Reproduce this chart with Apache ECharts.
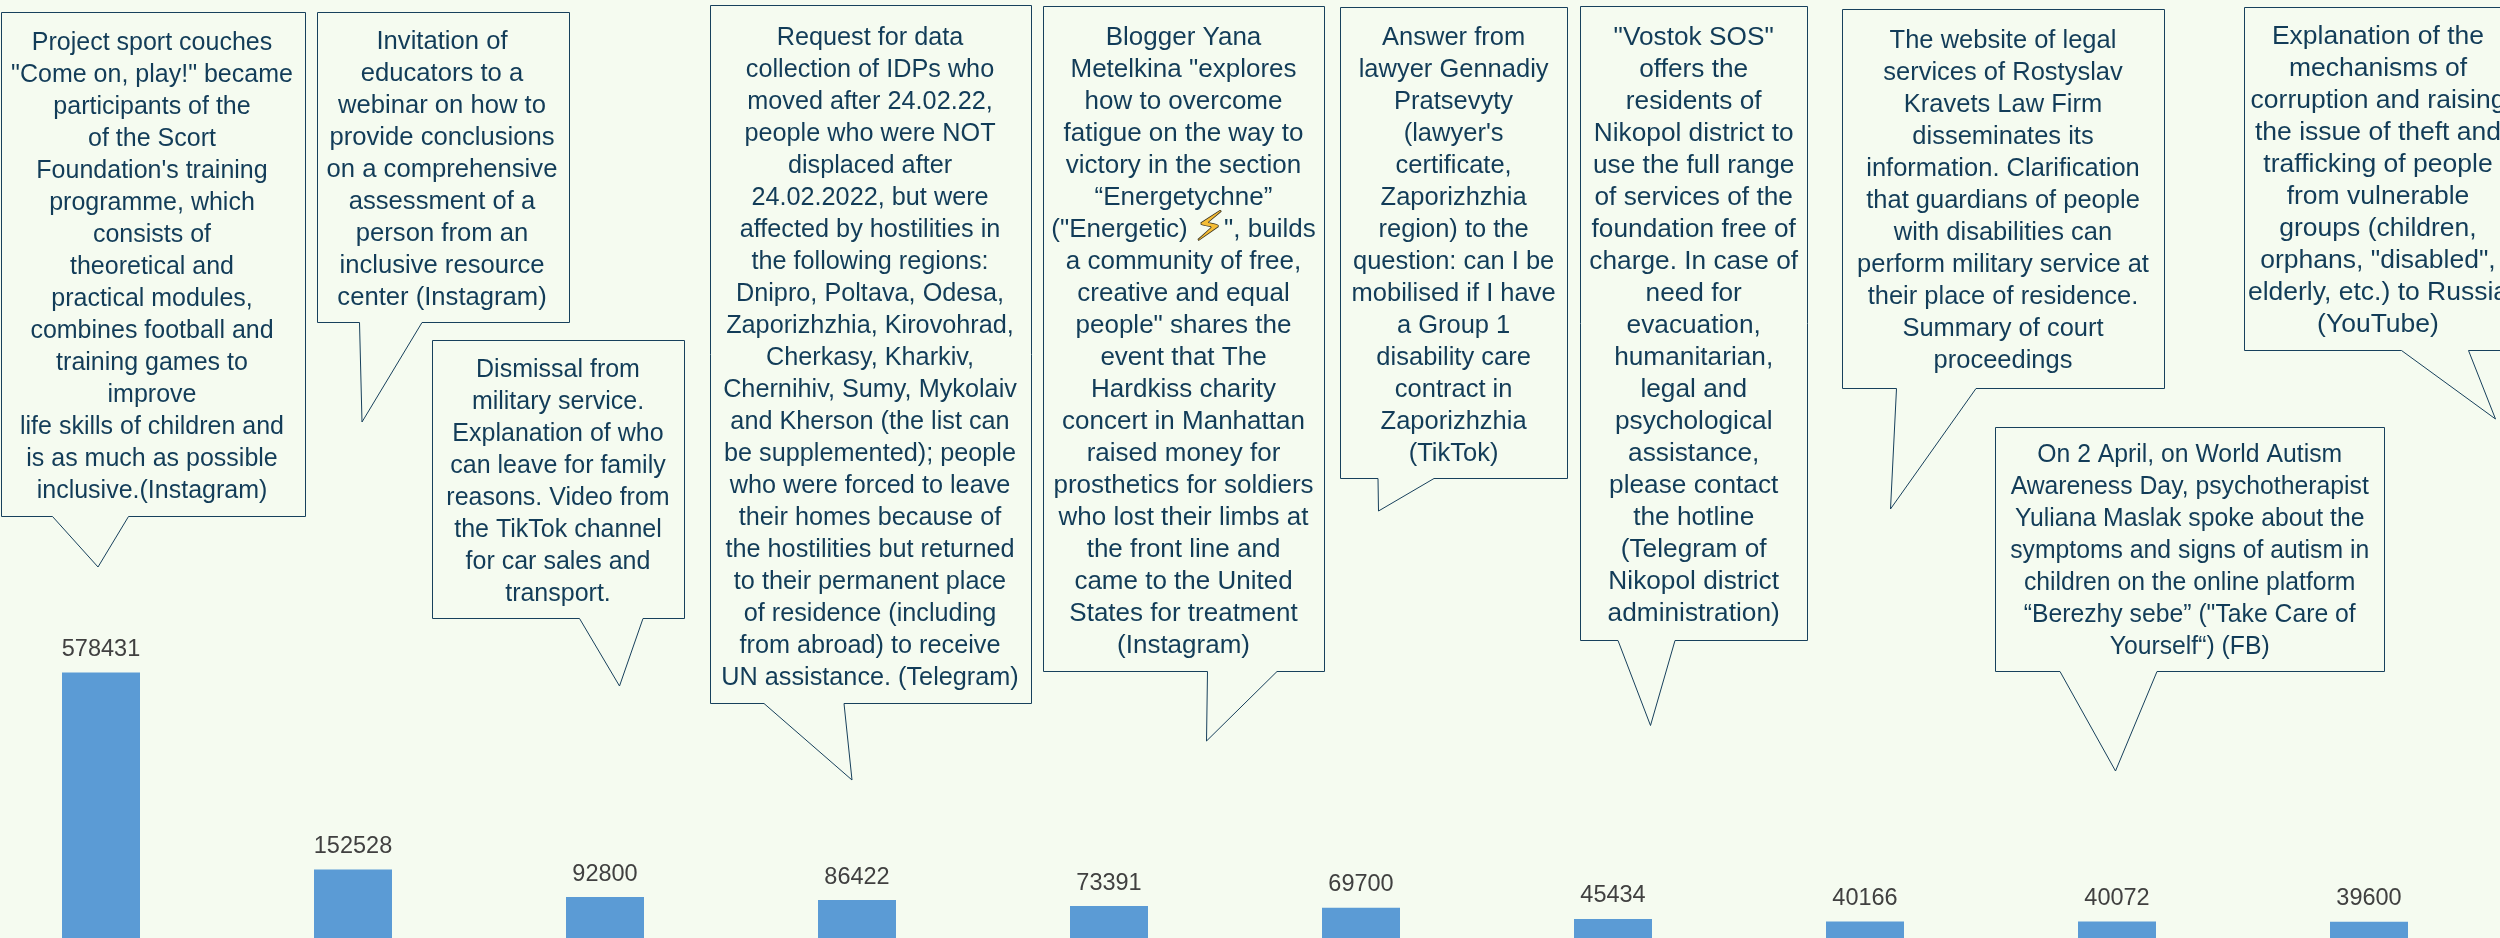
<!DOCTYPE html>
<html><head><meta charset="utf-8">
<style>html,body{margin:0;padding:0;background:#f5fbf0;overflow:hidden}#c{width:2500px;height:938px}</style>
<script src="https://cdn.jsdelivr.net/npm/echarts@6/dist/echarts.min.js"></script></head>
<body><div id="c"></div>
<script>
const categories = ["Instagram (sport)","Instagram (webinar)","TikTok (dismissal)","Telegram (IDPs)","Instagram (blogger)","TikTok (lawyer)","Telegram (Vostok SOS)","Web (law firm)","Facebook (autism)","YouTube (corruption)"];
const reach = [578431,152528,92800,86422,73391,69700,45434,40166,40072,39600];
const calloutTexts = [
`Project sport couches
"Come on, play!" became
participants of the
of the Scort
Foundation's training
programme, which
consists of
theoretical and
practical modules,
combines football and
training games to
improve
life skills of children and
is as much as possible
inclusive.(Instagram)`,
`Invitation of
educators to a
webinar on how to
provide conclusions
on a comprehensive
assessment of a
person from an
inclusive resource
center (Instagram)`,
`Dismissal from
military service.
Explanation of who
can leave for family
reasons. Video from
the TikTok channel
for car sales and
transport.`,
`Request for data
collection of IDPs who
moved after 24.02.22,
people who were NOT
displaced after
24.02.2022, but were
affected by hostilities in
the following regions:
Dnipro, Poltava, Odesa,
Zaporizhzhia, Kirovohrad,
Cherkasy, Kharkiv,
Chernihiv, Sumy, Mykolaiv
and Kherson (the list can
be supplemented); people
who were forced to leave
their homes because of
the hostilities but returned
to their permanent place
of residence (including
from abroad) to receive
UN assistance. (Telegram)`,
`Blogger Yana
Metelkina "explores
how to overcome
fatigue on the way to
victory in the section
“Energetychne”
("Energetic) {bolt|⚡}", builds
a community of free,
creative and equal
people" shares the
event that The
Hardkiss charity
concert in Manhattan
raised money for
prosthetics for soldiers
who lost their limbs at
the front line and
came to the United
States for treatment
(Instagram)`,
`Answer from
lawyer Gennadiy
Pratsevyty
(lawyer's
certificate,
Zaporizhzhia
region) to the
question: can I be
mobilised if I have
a Group 1
disability care
contract in
Zaporizhzhia
(TikTok)`,
`"Vostok SOS"
offers the
residents of
Nikopol district to
use the full range
of services of the
foundation free of
charge. In case of
need for
evacuation,
humanitarian,
legal and
psychological
assistance,
please contact
the hotline
(Telegram of
Nikopol district
administration)`,
`The website of legal
services of Rostyslav
Kravets Law Firm
disseminates its
information. Clarification
that guardians of people
with disabilities can
perform military service at
their place of residence.
Summary of court
proceedings`,
`On 2 April, on World Autism
Awareness Day, psychotherapist
Yuliana Maslak spoke about the
symptoms and signs of autism in
children on the online platform
“Berezhy sebe” ("Take Care of
Yourself“) (FB)`,
`Explanation of the
mechanisms of
corruption and raising
the issue of theft and
trafficking of people
from vulnerable
groups (children,
orphans, "disabled",
elderly, etc.) to Russia
(YouTube)`
];
// callout geometry: box [x0,y0,x1,y1], tail [baseL,baseR,tipX,tipY], text [centreX, firstLineCentreY], horizontal text stretch
const calloutBoxes = [[1.5,12.5,305.5,516.5],[317.5,12.5,569.5,322.5],[432.5,340.5,684.5,618.5],[710.5,5.5,1031.5,703.5],[1043.5,6.5,1324.5,671.5],[1340.5,7.5,1567.5,478.5],[1580.5,6.5,1807.5,640.5],[1842.5,9.5,2164.5,388.5],[1995.5,427.5,2384.5,671.5],[2244.5,7.5,2520,350.5]];
const calloutTails = [[52.5,128.5,98,567],[359.5,422,362,422],[579.5,643,619.5,686],[764,844,852,780],[1207.5,1277,1206.5,741],[1378,1434,1378.5,511],[1618,1675,1650.5,725.5],[1896.5,1976,1890.5,509],[2060,2157,2115.5,771],[2401.5,2468.5,2495.5,419]];
const calloutAnchors = [[152,43],[442,42],[558,370],[870,37.7],[1183.5,37.7],[1453.6,37.7],[1693.7,37.7],[2003,40.8],[2189.7,455.6],[2378,36.7]];
const calloutStretch = [1,1.025,1,1.01,1.04,1.02,1.05,1.02,0.99,1.06];

const LINE = 32, TEXT = '#123c58';
const graphic = [];
calloutBoxes.forEach((b, i) => {
  const t = calloutTails[i];
  graphic.push({type:'polygon', silent:true, z:5,
    shape:{points:[[b[0],b[1]],[b[2],b[1]],[b[2],b[3]],[t[1],b[3]],[t[2],t[3]],[t[0],b[3]],[b[0],b[3]]]},
    style:{fill:'#f5fbf0', stroke:'#17405c', lineWidth:1}});
  graphic.push({type:'text', silent:true, z:6, x:calloutAnchors[i][0], y:calloutAnchors[i][1]-LINE/2, scaleX:calloutStretch[i],
    style:{text:calloutTexts[i], fill:TEXT, font:'25px "Liberation Sans"', lineHeight:LINE, align:'center', verticalAlign:'top',
      rich:{bolt:{fontFamily:'DejaVu Sans', fontSize:40, fill:'#f5bd35', lineHeight:LINE, stroke:'#3a3320', lineWidth:1.5}}}});
});
const chart = echarts.init(document.getElementById('c'), null, {renderer:'canvas', width:2500, height:938});
chart.setOption({
  animation:false, backgroundColor:'#f5fbf0',
  grid:{left:-25, width:2520, top:0, height:940, containLabel:false, outerBoundsMode:'none'},
  xAxis:{type:'category', data:categories, show:false},
  yAxis:{type:'value', min:0, max:2032000, show:false},
  series:[{type:'bar', data:reach, barWidth:78, itemStyle:{color:'#5b9bd5'},
    label:{show:true, position:'top', distance:11, color:'#404040', fontFamily:'Liberation Sans', fontSize:23.5}}],
  graphic
});
</script></body></html>
